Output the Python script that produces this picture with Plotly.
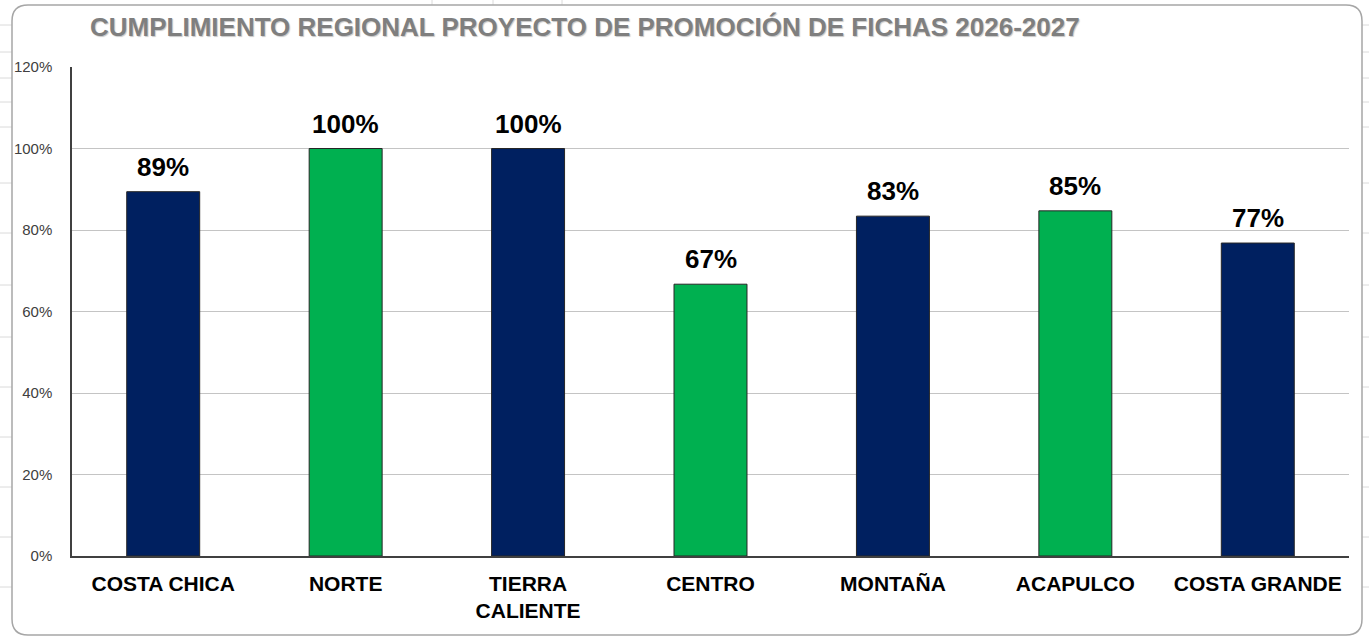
import plotly.graph_objects as go

# ---- data ----
regions = ["COSTA CHICA", "NORTE", "TIERRA<br>CALIENTE", "CENTRO", "MONTAÑA", "ACAPULCO", "COSTA GRANDE"]
compliance = [0.894, 1.00, 1.00, 0.667, 0.834, 0.847, 0.768]
bar_colors = ["#002060", "#00B050", "#002060", "#00B050", "#002060", "#00B050", "#002060"]
y_ticks = [0, 0.2, 0.4, 0.6, 0.8, 1.0, 1.2]
title_text = "CUMPLIMIENTO REGIONAL PROYECTO DE PROMOCIÓN DE FICHAS 2026-2027"

W, H = 1369, 638
ML, MR, MT, MB = 72, 20, 67, 82
PW, PH = W - ML - MR, H - MT - MB


def px(x):
    return (x - ML) / PW


def py(y):
    return (H - MB - y) / PH


fig = go.Figure()
fig.add_trace(go.Bar(
    x=regions, y=compliance, width=0.4,
    marker=dict(color=bar_colors, line=dict(color="#262626", width=1)),
    hoverinfo="skip",
))

# value labels above bars
for r, v in zip(regions, compliance):
    fig.add_annotation(
        x=r, y=v, text=f"{round(v * 100)}%", showarrow=False,
        yanchor="bottom", yshift=8,
        font=dict(family="Liberation Sans, Arial, sans-serif", size=26, color="#000000", weight="bold"),
    )

shapes = []
# spreadsheet gridlines outside the chart
row_lines = [25, 52, 78, 102, 127, 183, 233, 285, 337, 387, 437, 487, 537, 587]
for ry in row_lines:
    shapes.append(dict(type="line", xref="paper", yref="paper", x0=px(0), x1=px(12), y0=py(ry), y1=py(ry),
                       line=dict(color="#dadada", width=1), layer="below"))
    shapes.append(dict(type="line", xref="paper", yref="paper", x0=px(1362), x1=px(1369), y0=py(ry), y1=py(ry),
                       line=dict(color="#dadada", width=1), layer="below"))
for cx in [432, 493, 562]:
    shapes.append(dict(type="line", xref="paper", yref="paper", x0=px(cx), x1=px(cx), y0=py(0), y1=py(5),
                       line=dict(color="#dadada", width=1), layer="below"))

# rounded chart border
x0, x1, y0, y1, r = 12, 1362, 5, 635, 16
path = (
    f"M {px(x0 + r)},{py(y0)} L {px(x1 - r)},{py(y0)} "
    f"Q {px(x1)},{py(y0)} {px(x1)},{py(y0 + r)} "
    f"L {px(x1)},{py(y1 - r)} Q {px(x1)},{py(y1)} {px(x1 - r)},{py(y1)} "
    f"L {px(x0 + r)},{py(y1)} Q {px(x0)},{py(y1)} {px(x0)},{py(y1 - r)} "
    f"L {px(x0)},{py(y0 + r)} Q {px(x0)},{py(y0)} {px(x0 + r)},{py(y0)} Z"
)
shapes.append(dict(type="path", xref="paper", yref="paper", path=path,
                   line=dict(color="#a6a6a6", width=1.5), layer="below"))

fig.update_layout(
    width=W, height=H,
    margin=dict(l=ML, r=MR, t=MT, b=MB),
    paper_bgcolor="#ffffff", plot_bgcolor="#ffffff",
    showlegend=False,
    bargap=0.6,
    title=dict(
        text=title_text, x=90 / W, xanchor="left", xref="container",
        y=1 - 27 / H, yanchor="middle", yref="container",
        font=dict(family="Liberation Sans Narrow, Arial Narrow, Liberation Sans, Arial, sans-serif",
                  size=26, color="#7f7f7f", weight="bold", shadow="1px 1px 1px #c8c8c8"),
    ),
    xaxis=dict(
        showline=True, linecolor="#404040", linewidth=1.5,
        showgrid=False, ticks="", ticklabelstandoff=8,
        tickfont=dict(family="Liberation Sans, Arial, sans-serif", size=21, color="#000000", weight="bold"),
    ),
    yaxis=dict(
        range=[0, 1.2], tickvals=y_ticks, tickformat=".0%",
        showline=True, linecolor="#404040", linewidth=1.5,
        showgrid=True, gridcolor="#c4c4c4", gridwidth=1,
        zeroline=False, ticks="", ticklabelstandoff=15,
        tickfont=dict(family="Liberation Sans, Arial, sans-serif", size=15, color="#404040"),
    ),
    shapes=shapes,
)

fig.write_html("out.html", config={"displayModeBar": False},
               post_script="document.body.style.margin='0';")
